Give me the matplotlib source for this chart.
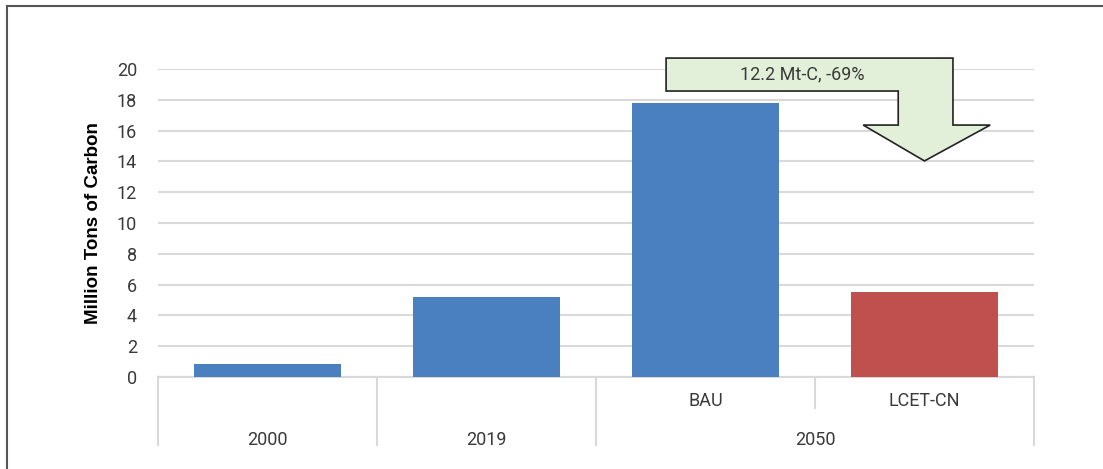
#!/usr/bin/env python3
"""Carbon emissions bar chart: 2000, 2019 and 2050 scenarios."""

import matplotlib

matplotlib.use("Agg")

import matplotlib.pyplot as plt
from matplotlib.lines import Line2D
from matplotlib.patches import Polygon

# data
years = ["2000", "2019", "2050"]
scenarios = ["", "", "BAU", "LCET-CN"]
bar_year = [0, 1, 2, 2]
values = [0.85, 5.2, 17.8, 5.55]
bar_colors = ["#4a7fc0", "#4a7fc0", "#4a7fc0", "#c0504d"]
yticks = [0, 2, 4, 6, 8, 10, 12, 14, 16, 18, 20]
ylabel = "Million Tons of Carbon"
note = "12.2 Mt-C, -69%"

text_color = "#3a3a3a"
grid_color = "#d9d9d9"
font_family = ["Roboto", "DejaVu Sans"]
font_size = 13

W, H = 1103, 469
fig = plt.figure(figsize=(W / 100, H / 100), dpi=100)

# outer frame: left and top lines only
fig.add_artist(Line2D([7 / W, 7 / W], [0, 1 - 6 / H], color="#555555", lw=1.5))
fig.add_artist(Line2D([7 / W, 1], [1 - 6 / H, 1 - 6 / H], color="#555555", lw=1.5))

x0, x1, y0, y1 = 158, 1034, 377, 69
ax = fig.add_axes([x0 / W, (H - y0) / H, (x1 - x0) / W, (y0 - y1) / H])

xs = list(range(len(values)))
ax.bar(xs, values, width=0.67, color=bar_colors, zorder=3)

ax.set_xlim(-0.5, len(values) - 0.5)
ax.set_ylim(0, 20)
ax.set_yticks(yticks)
ax.set_yticklabels([str(t) for t in yticks], family=font_family, size=font_size,
                   color=text_color)
ax.tick_params(axis="y", length=0, pad=15)
ax.set_xticks([])
ax.grid(axis="y", color=grid_color, lw=1.5, zorder=0)
for side in ["top", "right", "left"]:
    ax.spines[side].set_visible(False)
ax.spines["bottom"].set_color(grid_color)
ax.spines["bottom"].set_linewidth(1.5)

ax.set_ylabel(ylabel, family=["Liberation Sans", "DejaVu Sans"], weight="bold",
              size=13.5, color="black", labelpad=11)

# two-level category axis
ph = y0 - y1
trans = ax.get_xaxis_transform()
edges = [i - 0.5 for i in range(len(values) + 1)]
for i, e in enumerate(edges):
    inner = 0 < i < len(values) and bar_year[i] == bar_year[i - 1]
    bottom = -(408 - y0) / ph if inner else -(445 - y0) / ph
    ax.add_line(Line2D([e, e], [0, bottom], transform=trans, color=grid_color,
                       lw=1.5, clip_on=False))

for i, s in enumerate(scenarios):
    if s:
        ax.text(i, -(401 - y0) / ph, s, transform=trans, ha="center", va="center",
                color=text_color, family=font_family, size=font_size)
for j, y in enumerate(years):
    members = [i for i, b in enumerate(bar_year) if b == j]
    xc = sum(members) / len(members)
    ax.text(xc, -(440 - y0) / ph, y, transform=trans, ha="center", va="center",
            color=text_color, family=font_family, size=font_size)

# bent arrow from BAU down to LCET-CN
tip = 3.0
arrow = [
    (1.82, 20.71), (3.13, 20.71), (3.13, 16.36), (3.30, 16.36),
    (tip, 14.03), (2.72, 16.36), (2.88, 16.36), (2.88, 18.57), (1.82, 18.57),
]
ax.add_patch(Polygon(arrow, closed=True, facecolor="#e2efd9", edgecolor="#222222",
                     lw=1.2, zorder=5, clip_on=False))
ax.text(2.44, 19.62, note, ha="center", va="center", color=text_color, zorder=6,
        family=font_family, size=font_size)

fig.savefig("out.png", dpi=100, facecolor="white")
